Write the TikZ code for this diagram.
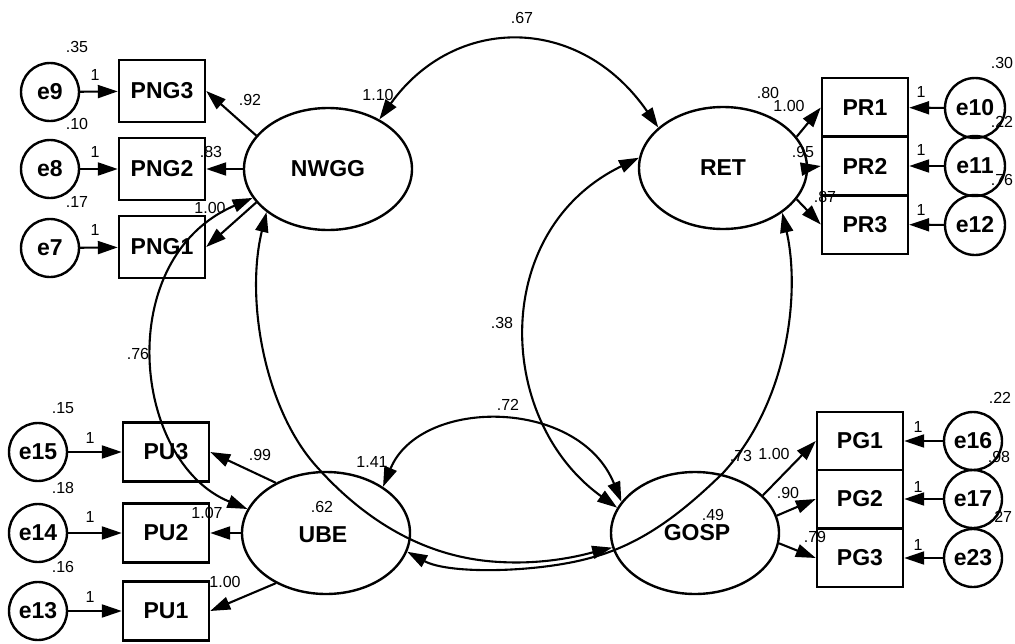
\documentclass[tikz,border=0pt]{standalone}
\usepackage{fontspec}
\setmainfont{Liberation Sans}
\usetikzlibrary{shapes.geometric,arrows.meta}
\begin{document}
\begin{tikzpicture}[x=1pt,y=-1pt,
  every node/.style={inner sep=0pt},
  nfont/.style={font=\fontsize{23}{23}\selectfont\bfseries},
  lat/.style={draw, ellipse, line width=2.4pt, minimum width=168pt, minimum height=122pt, nfont},
  obs/.style={draw, rectangle, line width=2.4pt, minimum width=86pt, minimum height=60pt, nfont},
  err/.style={draw, circle, line width=2.4pt, minimum size=58pt, nfont},
  lab/.style={font=\fontsize{16}{16}\selectfont},
  arr/.style={line width=2.1pt, -{Triangle[length=20pt,width=13pt]}},
  cov/.style={line width=2.1pt, {Triangle[length=20pt,width=13pt]}-{Triangle[length=20pt,width=13pt]}},
]
\useasboundingbox (0,0) rectangle (1015,643);

% latent variables
\node[lat] (NWGG) at (328,169) {NWGG};
\node[lat] (RET) at (723,168) {RET};
\node[lat] (UBE) at (326,533) {};
\node[lat] (GOSP) at (695,533) {};
\node[nfont] (UBEt) at (323,535) {UBE};
\node[nfont] (GOSPt) at (697,533) {GOSP};

% observed, left top
\node[obs, minimum height=62pt] (PNG3) at (162,91) {PNG3};
\node[obs, minimum height=62pt] (PNG2) at (162,169) {PNG2};
\node[obs, minimum height=62pt] (PNG1) at (162,247) {PNG1};
\node[err] (e9) at (50,92) {e9};
\node[err] (e8) at (50,169) {e8};
\node[err] (e7) at (50,248) {e7};

% observed, right top
\node[obs, minimum height=59pt] (PR1) at (865,107.5) {PR1};
\node[obs, minimum height=59pt] (PR2) at (865,166) {PR2};
\node[obs, minimum height=59pt] (PR3) at (865,224.5) {PR3};
\node[err, minimum size=60pt] (e10) at (975,108) {e10};
\node[err, minimum size=60pt] (e11) at (975,166) {e11};
\node[err, minimum size=60pt] (e12) at (975,225) {e12};

% observed, left bottom
\node[obs, minimum height=59pt] (PU3) at (166,452) {PU3};
\node[obs, minimum height=59pt] (PU2) at (166,533) {PU2};
\node[obs, minimum height=59pt] (PU1) at (166,611) {PU1};
\node[err] (e15) at (38,452) {e15};
\node[err] (e14) at (38,533) {e14};
\node[err] (e13) at (38,611) {e13};

% observed, right bottom
\node[obs, minimum height=58pt] (PG1) at (860,441) {PG1};
\node[obs, minimum height=58pt] (PG2) at (860,499) {PG2};
\node[obs, minimum height=58pt] (PG3) at (860,558) {PG3};
\node[err] (e16) at (973,441) {e16};
\node[err] (e17) at (973,499) {e17};
\node[err] (e23) at (973,558) {e23};

% error arrows
\draw[arr] (e9) -- (PNG3);
\draw[arr] (e8) -- (PNG2);
\draw[arr] (e7) -- (PNG1);
\draw[arr] (e10) -- (PR1);
\draw[arr] (e11) -- (PR2);
\draw[arr] (e12) -- (PR3);
\draw[arr] (e15) -- (PU3);
\draw[arr] (e14) -- (PU2);
\draw[arr] (e13) -- (PU1);
\draw[arr] (e16) -- (PG1);
\draw[arr] (e17) -- (PG2);
\draw[arr] (e23) -- (PG3);

% loadings
\draw[arr] (NWGG.155) -- (PNG3.east);
\draw[arr] (NWGG.180) -- (PNG2.east);
\draw[arr] (NWGG.205) -- (PNG1.east);
\draw[arr] (RET.23) -- (PR1.west);
\draw[arr] (RET.0) -- (PR2.west);
\draw[arr] (RET.-23) -- (PR3.west);
\draw[arr] (UBE.135) -- (PU3.east);
\draw[arr] (UBE.180) -- (PU2.east);
\draw[arr] (UBE.225) -- (PU1.east);
\draw[arr] (GOSP.29) -- (PG1.west);
\draw[arr] (GOSP.12) -- (PG2.west);
\draw[arr] (GOSP.-7) -- (PG3.west);

% covariances
\draw[cov] (NWGG.44) .. controls (455,14) and (580,14) .. (RET.148);
\draw[cov] (NWGG.201) .. controls (112,258) and (132,462) .. (UBE.163);
\draw[cov] (NWGG.215) .. controls (245,300) and (265,410) .. (317,467)
   .. controls (360,515) and (420,558) .. (500,562)
   .. controls (550,565) and (590,553) .. (GOSP.190);
\draw[cov] (RET.323) .. controls (800,290) and (790,400) .. (723,473)
   .. controls (680,515) and (640,545) .. (590,558)
   .. controls (540,572) and (450,575) .. (UBE.347);
\draw[cov] (RET.173) .. controls (490,230) and (495,420) .. (GOSP.162);
\draw[cov] (UBE.39) .. controls (420,397) and (579,397) .. (GOSP.157);

% labels left top
\node[lab] at (77,47) {.35};
\node[lab] at (77,124) {.10};
\node[lab] at (77,202) {.17};
\node[lab] at (95,75) {1};
\node[lab] at (95,152) {1};
\node[lab] at (95,230) {1};
\node[lab] at (250,100) {.92};
\node[lab] at (211,152) {.83};
\node[lab] at (210,208) {1.00};
\node[lab] at (378,95) {1.10};

% labels right top
\node[lab] at (768,93) {.80};
\node[lab] at (789,106) {1.00};
\node[lab] at (803,152) {.95};
\node[lab] at (825,197) {.87};
\node[lab] at (1002,63) {.30};
\node[lab] at (1002,122) {.22};
\node[lab] at (1002,180) {.76};
\node[lab] at (921,92) {1};
\node[lab] at (921,150) {1};
\node[lab] at (921,210) {1};

% labels left bottom
\node[lab] at (63,408) {.15};
\node[lab] at (63,488) {.18};
\node[lab] at (63,567) {.16};
\node[lab] at (90,438) {1};
\node[lab] at (90,517) {1};
\node[lab] at (90,597) {1};
\node[lab] at (260,455) {.99};
\node[lab] at (207,513) {1.07};
\node[lab] at (225,582) {1.00};
\node[lab] at (372,462) {1.41};
\node[lab] at (322,507) {.62};

% labels right bottom
\node[lab] at (1000,398) {.22};
\node[lab] at (999,457) {.98};
\node[lab] at (1001,517) {.27};
\node[lab] at (918,427) {1};
\node[lab] at (918,487) {1};
\node[lab] at (918,545) {1};
\node[lab] at (741,456) {.73};
\node[lab] at (774,454) {1.00};
\node[lab] at (788,493) {.90};
\node[lab] at (815,537) {.79};
\node[lab] at (713,515) {.49};

% covariance labels
\node[lab] at (522,18) {.67};
\node[lab] at (502,323) {.38};
\node[lab] at (508,405) {.72};
\node[lab] at (138,354) {.76};
\end{tikzpicture}
\end{document}
